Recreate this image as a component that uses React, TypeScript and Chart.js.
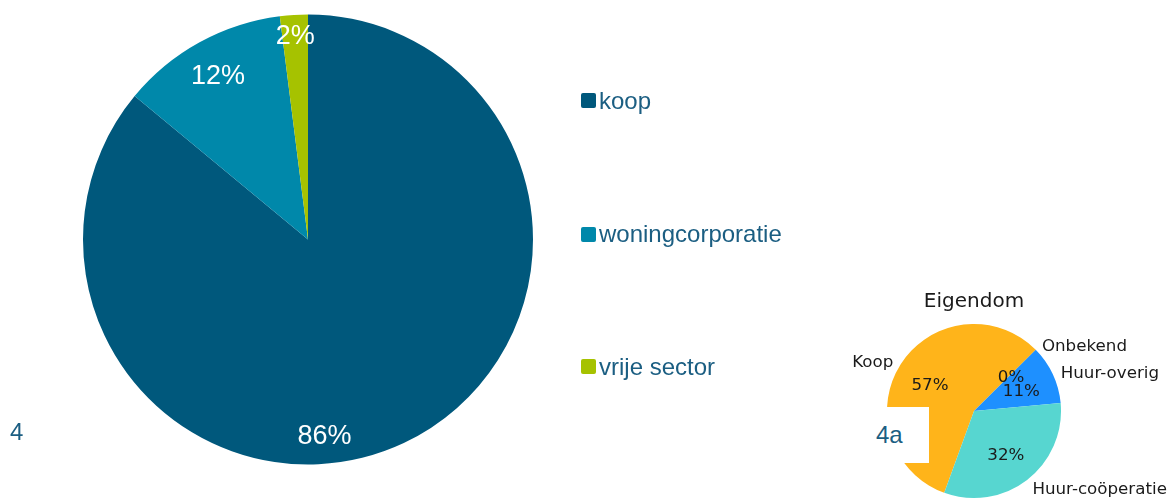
import React, { useEffect, useRef } from "react";
import { Chart, registerables } from "chart.js";

Chart.register(...registerables);

// ---- data ----
const mainCategories = ["koop", "woningcorporatie", "vrije sector"];
const mainValues = [86, 12, 2];
const mainColors = ["#00587c", "#0088aa", "#a6c200"];

const ownTitle = "Eigendom";
const ownCategories = ["Koop", "Onbekend", "Huur-overig", "Huur-coöperatie"];
const ownValues = [57, 0, 11, 32];
const ownColors = ["#ffb41a", "#9e9e9e", "#1e90ff", "#57d6d0"];

const panelLabels = ["4", "4a"];

// ---- label styling (placement factors) ----
const mainLabelRadius = [0.874, 0.83, 0.908];
const mainLabelAngleShift = [20.4, 0, 0];

const pct = (v: number, all: number[]) => {
  const t = all.reduce((a, b) => a + b, 0);
  return Math.round((v / t) * 100) + "%";
};

const mainLabelPlugin = {
  id: "mainLabels",
  afterDatasetsDraw(chart: any) {
    const ctx = chart.ctx;
    const meta = chart.getDatasetMeta(0);
    const data = chart.data.datasets[0].data as number[];
    ctx.save();
    ctx.fillStyle = "#ffffff";
    ctx.font = '27px "Liberation Sans", Arial, sans-serif';
    ctx.textAlign = "center";
    ctx.textBaseline = "middle";
    meta.data.forEach((arc: any, i: number) => {
      const p = arc.getProps(["x", "y", "startAngle", "endAngle", "outerRadius"], true);
      const mid = (p.startAngle + p.endAngle) / 2 + (mainLabelAngleShift[i] * Math.PI) / 180;
      const r = p.outerRadius * mainLabelRadius[i];
      ctx.fillText(pct(data[i], data), p.x + Math.cos(mid) * r, p.y + Math.sin(mid) * r + 1);
    });
    ctx.restore();
  },
};

const ownLabelPlugin = {
  id: "ownLabels",
  afterDatasetsDraw(chart: any) {
    const ctx = chart.ctx;
    const meta = chart.getDatasetMeta(0);
    const data = chart.data.datasets[0].data as number[];
    const labels = chart.data.labels as string[];
    ctx.save();
    ctx.fillStyle = "#1a1a1a";
    let cx = 0;
    let cy = 0;
    let R = 0;
    meta.data.forEach((arc: any, i: number) => {
      const p = arc.getProps(["x", "y", "startAngle", "endAngle", "outerRadius"], true);
      cx = p.x;
      cy = p.y;
      R = p.outerRadius;
      const mid = (p.startAngle + p.endAngle) / 2;
      const c = Math.cos(mid);
      const s = Math.sin(mid);
      ctx.font = '16.7px "DejaVu Sans", sans-serif';
      ctx.textBaseline = "middle";
      // category label
      ctx.textAlign = c >= 0 ? "left" : "right";
      ctx.fillText(labels[i], p.x + c * R * 1.1, p.y + s * R * 1.1 + 3);
      // percentage
      ctx.textAlign = "center";
      ctx.fillText(pct(data[i], data), p.x + c * R * 0.6, p.y + s * R * 0.6 + 3);
    });
    ctx.font = '20px "DejaVu Sans", sans-serif';
    ctx.textAlign = "center";
    ctx.textBaseline = "alphabetic";
    ctx.fillText(ownTitle, cx, cy - R - 17);
    ctx.restore();
  },
};

export default function App() {
  const mainRef = useRef<HTMLCanvasElement>(null);
  const ownRef = useRef<HTMLCanvasElement>(null);

  useEffect(() => {
    const main = new Chart(mainRef.current as HTMLCanvasElement, {
      type: "pie",
      data: {
        labels: mainCategories,
        datasets: [
          {
            data: mainValues,
            backgroundColor: mainColors,
            borderWidth: 0,
            hoverOffset: 0,
          },
        ],
      },
      options: {
        animation: false,
        responsive: false,
        events: [],
        rotation: 0,
        layout: { padding: { left: 83, top: 14, right: 638, bottom: 34 } },
        plugins: { legend: { display: false }, tooltip: { enabled: false } },
      },
      plugins: [mainLabelPlugin],
    } as any);

    const own = new Chart(ownRef.current as HTMLCanvasElement, {
      type: "pie",
      data: {
        labels: ownCategories,
        datasets: [
          {
            data: ownValues,
            backgroundColor: ownColors,
            borderWidth: 0,
            hoverOffset: 0,
          },
        ],
      },
      options: {
        animation: false,
        responsive: false,
        events: [],
        rotation: 200,
        layout: { padding: { left: 47, top: 44, right: 110, bottom: 1 } },
        plugins: { legend: { display: false }, tooltip: { enabled: false } },
      },
      plugins: [ownLabelPlugin],
    } as any);

    return () => {
      main.destroy();
      own.destroy();
    };
  }, []);

  const legendTops = [88.7, 222.4, 354.7];
  const font = '"Liberation Sans", Arial, sans-serif';
  const textColor = "#1b5e82";

  return (
    <div
      style={{
        position: "absolute",
        left: 0,
        top: 0,
        width: 1171,
        height: 499,
        background: "#ffffff",
        overflow: "hidden",
      }}
    >
      <canvas
        ref={mainRef}
        width={1171}
        height={499}
        style={{ position: "absolute", left: 0, top: 0, width: 1171, height: 499 }}
      />
      {mainCategories.map((c, i) => (
        <div
          key={c}
          style={{
            position: "absolute",
            left: 581,
            top: legendTops[i],
            height: 24,
            display: "flex",
            alignItems: "flex-start",
            fontFamily: font,
            fontSize: 24,
            lineHeight: "24px",
            color: textColor,
            whiteSpace: "nowrap",
          }}
        >
          <span
            style={{
              display: "inline-block",
              width: 15,
              height: 15,
              borderRadius: 2,
              background: mainColors[i],
              marginTop: 4.5,
              marginRight: 3,
            }}
          />
          <span>{c}</span>
        </div>
      ))}
      <div
        style={{
          position: "absolute",
          left: 10,
          top: 419.7,
          fontFamily: font,
          fontSize: 24,
          lineHeight: "24px",
          color: textColor,
        }}
      >
        {panelLabels[0]}
      </div>
      <canvas
        ref={ownRef}
        width={331}
        height={219}
        style={{ position: "absolute", left: 840, top: 280, width: 331, height: 219 }}
      />
      <div
        style={{
          position: "absolute",
          left: 868,
          top: 407,
          width: 61,
          height: 56,
          background: "#ffffff",
        }}
      />
      <div
        style={{
          position: "absolute",
          left: 876,
          top: 422.7,
          fontFamily: font,
          fontSize: 24,
          lineHeight: "24px",
          color: textColor,
        }}
      >
        {panelLabels[1]}
      </div>
    </div>
  );
}
